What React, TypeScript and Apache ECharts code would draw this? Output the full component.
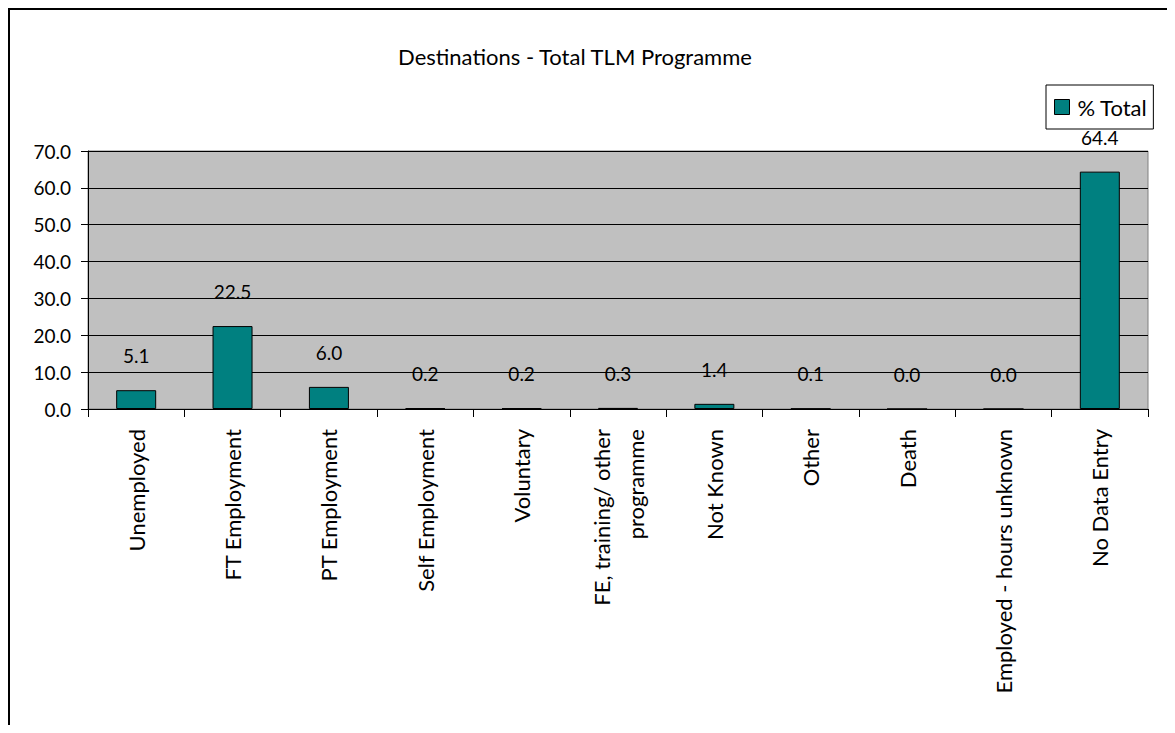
import React, { useEffect, useRef } from "react";
import * as echarts from "echarts";

const categories: string[] = [
  "Unemployed",
  "FT Employment",
  "PT Employment",
  "Self Employment",
  "Voluntary",
  "FE, training/ other\nprogramme",
  "Not Known",
  "Other",
  "Death",
  "Employed - hours unknown",
  "No Data Entry",
];

const totalPercent: number[] = [5.1, 22.5, 6.0, 0.2, 0.2, 0.3, 1.4, 0.1, 0.0, 0.0, 64.4];

const seriesName = "% Total";
const chartTitle = "Destinations - Total TLM Programme";

const FONT = "Lato, 'Open Sans', sans-serif";

export default function App() {
  const ref = useRef<HTMLDivElement>(null);

  useEffect(() => {
    if (!ref.current) return;
    const chart = echarts.init(ref.current, undefined, { renderer: "svg" });
    chart.setOption({
      animation: false,
      textStyle: { fontFamily: FONT, color: "#000" },
      graphic: [
        {
          type: "text",
          x: 565,
          y: 46,
          style: {
            text: chartTitle,
            fontFamily: FONT,
            fontSize: 22,
            fill: "#000",
            align: "center",
            verticalAlign: "middle",
          },
        },
      ],
      legend: {
        data: [seriesName],
        left: 1036,
        top: 75,
        padding: [11, 6, 11, 8],
        backgroundColor: "#fff",
        borderColor: "#000",
        borderWidth: 1,
        borderRadius: 0,
        itemWidth: 15,
        itemHeight: 15,
        itemGap: 6,
        icon: "rect",
        itemStyle: { borderColor: "#000", borderWidth: 1 },
        textStyle: { fontFamily: FONT, fontSize: 22, color: "#000", padding: [0, 0, 0, 3] },
      },
      grid: {
        left: 78,
        top: 141,
        width: 1060,
        height: 258,
        show: true,
        backgroundColor: "#c0c0c0",
        borderColor: "#808080",
        borderWidth: 1,
        containLabel: false,
      },
      xAxis: {
        type: "category",
        data: categories,
        boundaryGap: true,
        axisLine: { lineStyle: { color: "#000", width: 1 } },
        axisTick: { show: true, length: 8, lineStyle: { color: "#000" } },
        axisLabel: {
          rotate: 90,
          interval: 0,
          margin: 20,
          fontFamily: FONT,
          fontSize: 22,
          color: "#000",
          lineHeight: 34,
        },
      },
      yAxis: {
        type: "value",
        min: 0,
        max: 70,
        interval: 10,
        axisLine: { show: true, lineStyle: { color: "#000", width: 1 } },
        axisTick: { show: true, length: 7, lineStyle: { color: "#000" } },
        axisLabel: {
          margin: 17,
          fontFamily: FONT,
          fontSize: 19,
          color: "#000",
          formatter: (v: number) => v.toFixed(1),
        },
        splitLine: { show: true, lineStyle: { color: "#000", width: 1 } },
      },
      series: [
        {
          name: seriesName,
          type: "bar",
          data: totalPercent,
          barWidth: 40,
          itemStyle: { color: "#008080", borderColor: "#000", borderWidth: 1 },
          label: {
            show: true,
            position: "top",
            distance: 25,
            fontFamily: FONT,
            fontSize: 19,
            color: "#000",
            formatter: (p: any) => Number(p.value).toFixed(1),
          },
        },
      ],
    });
    return () => chart.dispose();
  }, []);

  return (
    <div
      style={{
        width: 1159,
        height: 717,
        boxSizing: "border-box",
        borderTop: "2px solid #000",
        borderLeft: "2px solid #000",
        background: "#fff",
      }}
    >
      <div ref={ref} style={{ width: 1157, height: 715 }} />
    </div>
  );
}
